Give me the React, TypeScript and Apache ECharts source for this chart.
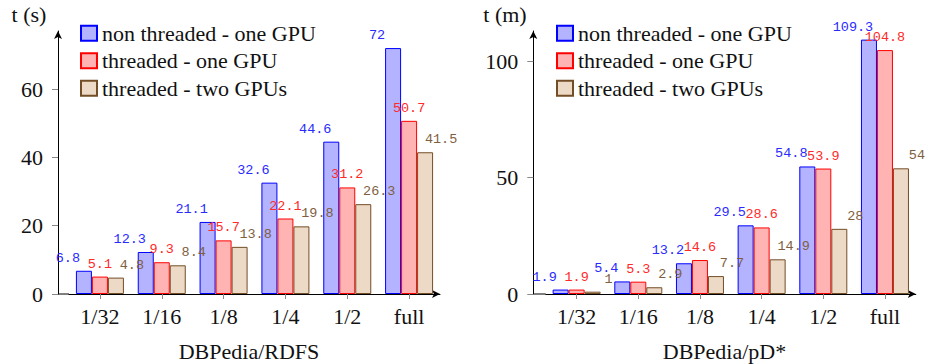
import React, { useEffect, useRef } from "react";
import * as echarts from "echarts";

const categories = ["1/32", "1/16", "1/8", "1/4", "1/2", "full"];
const seriesNames = ["non threaded - one GPU", "threaded - one GPU", "threaded - two GPUs"];
const rdfsNonThreaded = [6.8, 12.3, 21.1, 32.6, 44.6, 72];
const rdfsThreaded = [5.1, 9.3, 15.7, 22.1, 31.2, 50.7];
const rdfsTwoGpus = [4.8, 8.4, 13.8, 19.8, 26.3, 41.5];
const pdNonThreaded = [1.9, 5.4, 13.2, 29.5, 54.8, 109.3];
const pdThreaded = [1.9, 5.3, 14.6, 28.6, 53.9, 104.8];
const pdTwoGpus = [1, 2.9, 7.7, 14.9, 28, 54];
const rdfsTicks = [0, 20, 40, 60];
const pdTicks = [0, 50, 100];
const rdfsMax = 77;
const pdMax = 113;
const titles = { leftY: "t (s)", rightY: "t (m)", leftX: "DBPedia/RDFS", rightX: "DBPedia/pD*" };

const FONT = "'Liberation Serif', 'Times New Roman', serif";
const LABEL_FONT = "'Liberation Mono', 'Courier New', monospace";
const FS = 22;
const TEXT = "#111";
const styles = [
  { fill: "#b3b3ff", stroke: "#0000ff", label: "#2a2aff", offset: -16 },
  { fill: "#ffb3b3", stroke: "#ff0000", label: "#ff2a2a", offset: 0 },
  { fill: "#ecd9c6", stroke: "#734d26", label: "#7f5f3f", offset: 16 },
];

const GRID_TOP = 31;
const GRID_H = 263;
const grids = [
  { left: 69, width: 371, axisX: 58 },
  { left: 545.8, width: 370, axisX: 533.3 },
];

function makeAxes(i: number, max: number, interval: number, ticks: number[]) {
  const g = grids[i];
  const xAxis = {
    gridIndex: i,
    type: "category",
    data: categories,
    boundaryGap: true,
    axisLine: {
      show: true,
      lineStyle: { color: "#000", width: 1 },
      symbol: ["none", "arrow"],
      symbolSize: [6, 8],
    },
    axisTick: { show: true, alignWithLabel: true, length: 5, lineStyle: { color: "#888" } },
    axisLabel: { interval: 0, margin: 11.5, fontFamily: FONT, fontSize: FS, lineHeight: FS, color: TEXT },
    splitLine: { show: false },
  };
  const yAxis = {
    gridIndex: i,
    type: "value",
    min: 0,
    max,
    interval,
    offset: g.left - g.axisX,
    axisLine: {
      show: true,
      lineStyle: { color: "#000", width: 1 },
      symbol: ["none", "arrow"],
      symbolSize: [6, 8],
    },
    axisTick: { show: true, length: 6, lineStyle: { color: "#888" }, customValues: ticks },
    axisLabel: { margin: 15, fontFamily: FONT, fontSize: FS, color: TEXT, customValues: ticks },
    splitLine: { show: false },
  };
  return { xAxis, yAxis };
}

function makeSeries(i: number, data: number[][]) {
  return data.map((values, k) => ({
    name: seriesNames[k],
    type: "bar",
    xAxisIndex: i,
    yAxisIndex: i,
    data: values,
    barWidth: 16,
    barGap: "0%",
    itemStyle: { color: styles[k].fill, borderColor: styles[k].stroke, borderWidth: 1 },
    label: {
      show: true,
      position: "top",
      distance: 6,
      offset: [styles[k].offset, 0],
      color: styles[k].label,
      fontFamily: LABEL_FONT,
      fontSize: 13.5,
      lineHeight: 13,
    },
    z: 2,
  }));
}

export default function App() {
  const ref = useRef<HTMLDivElement>(null);
  useEffect(() => {
    if (!ref.current) return;
    const chart = echarts.init(ref.current, undefined, { renderer: "svg" });
    const a0 = makeAxes(0, rdfsMax, 20, rdfsTicks);
    const a1 = makeAxes(1, pdMax, 50, pdTicks);
    const legendBase = {
      orient: "vertical",
      top: 22.3,
      padding: 0,
      icon: "rect",
      itemWidth: 16,
      itemHeight: 15,
      itemGap: 5.5,
      data: seriesNames,
      selectedMode: false,
      textStyle: { fontFamily: FONT, fontSize: FS, lineHeight: FS, color: TEXT },
    };
    const zeroY = GRID_TOP + GRID_H;
    const textStyle = (text: string) => ({
      text,
      fontFamily: FONT,
      fontSize: FS,
      fill: TEXT,
      align: "center",
      verticalAlign: "middle",
    });
    const option = {
      animation: false,
      grid: grids.map((g) => ({ left: g.left, width: g.width, top: GRID_TOP, height: GRID_H, containLabel: false })),
      xAxis: [a0.xAxis, a1.xAxis],
      yAxis: [a0.yAxis, a1.yAxis],
      legend: [
        { ...legendBase, left: 80 },
        { ...legendBase, left: 556 },
      ],
      series: [
        ...makeSeries(0, [rdfsNonThreaded, rdfsThreaded, rdfsTwoGpus]),
        ...makeSeries(1, [pdNonThreaded, pdThreaded, pdTwoGpus]),
      ],
      graphic: [
        ...grids.map((g) => ({
          type: "line",
          shape: { x1: g.axisX, y1: zeroY, x2: g.left, y2: zeroY },
          style: { stroke: "#000", lineWidth: 1 },
        })),
        { type: "text", x: 29, y: 14, style: textStyle(titles.leftY) },
        { type: "text", x: 505, y: 14, style: textStyle(titles.rightY) },
        { type: "text", x: 249, y: 351.5, style: textStyle(titles.leftX) },
        { type: "text", x: 724.5, y: 351.5, style: textStyle(titles.rightX) },
      ],
    };
    chart.setOption(option as any);
    return () => chart.dispose();
  }, []);
  return (
    <div
      ref={ref}
      style={{ position: "fixed", left: 0, top: 0, width: 927, height: 364, background: "#fff" }}
    />
  );
}
